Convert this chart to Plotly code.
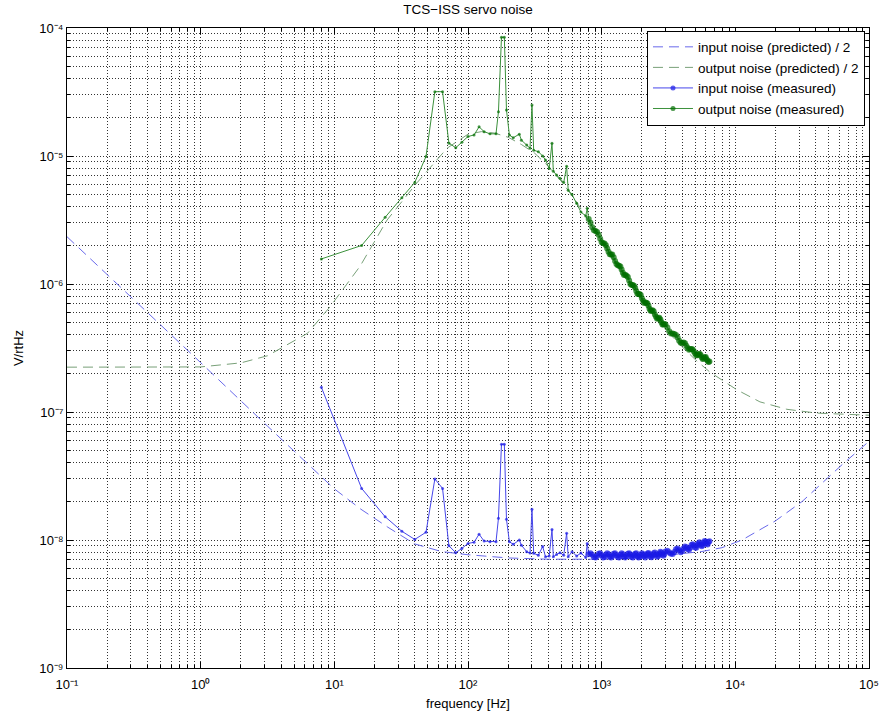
import plotly.graph_objects as go

# ---------------- data ----------------
# predicted input noise / 2
pred_in_f = [0.1, 0.316, 1, 3.16, 10, 15.8, 25.1, 39.8, 63.1, 100, 200, 398, 1000,
             1995, 3162, 5623, 7943, 11220, 15850, 19950, 31620, 63100, 100000]
pred_in_v = [2.34e-6, 7.59e-7, 2.43e-7, 7.76e-8, 2.51e-8, 1.74e-8, 1.26e-8, 9.33e-9,
             8.13e-9, 7.67e-9, 7.24e-9, 7.08e-9, 7.08e-9, 7.24e-9, 7.59e-9, 8.13e-9,
             8.71e-9, 1.0e-8, 1.23e-8, 1.41e-8, 2.0e-8, 3.89e-8, 5.9e-8]

# predicted output noise / 2
pred_out_f = [0.1, 1, 2, 3.16, 6.3, 9.3, 15.6, 24.8, 41.5, 58.6, 69.7, 100, 126, 158,
              200, 251, 316, 398, 501, 631, 794, 1000, 1259, 1585, 1995, 2512, 3162,
              3981, 5012, 6457, 10280, 15280, 24300, 40800, 75900, 100000]
pred_out_v = [2.24e-7, 2.25e-7, 2.42e-7, 2.75e-7, 4.12e-7, 6.65e-7, 1.38e-6, 3.16e-6,
              6.17e-6, 9.33e-6, 1.15e-5, 1.48e-5, 1.55e-5, 1.51e-5, 1.40e-5, 1.23e-5,
              1.05e-5, 8.32e-6, 6.31e-6, 4.57e-6, 3.16e-6, 2.14e-6, 1.48e-6, 1.05e-6,
              7.5e-7, 5.5e-7, 4.17e-7, 3.24e-7, 2.57e-7, 2.05e-7, 1.49e-7, 1.20e-7,
              1.05e-7, 9.8e-8, 9.5e-8, 9.44e-8]

# measured spectra (common frequency bins)
meas_f = [8, 16, 24, 32, 40, 48.5, 56.5, 64.5, 72, 81, 90, 100, 111, 121, 132, 146, 162,
          169, 178, 187, 194, 204, 218, 242, 251, 275, 291, 301, 310, 336, 362, 380, 405,
          425, 435, 460, 488, 520, 547, 562, 600, 650, 700, 760, 780,
          800, 825, 850, 875, 900, 925, 950, 975, 1000, 1025, 1050, 1075, 1100, 1125, 1150,
          1175, 1200, 1230, 1260, 1290, 1320, 1350, 1380, 1410, 1440, 1470, 1500, 1535,
          1570, 1605, 1640, 1675, 1710, 1745, 1780, 1815, 1850, 1885, 1920, 1960, 2000,
          2040, 2080, 2120, 2160, 2200, 2240, 2280, 2320, 2360, 2400, 2450, 2500, 2550,
          2600, 2650, 2700, 2750, 2800, 2850, 2900, 2950, 3000,
          3100, 3200, 3300, 3400, 3500, 3600, 3700, 3800, 3900, 4000, 4100, 4200, 4300,
          4400, 4500, 4600, 4700, 4800, 4900, 5000, 5100, 5200, 5300, 5400, 5500, 5600,
          5700, 5800, 5900, 6000, 6100, 6200, 6300, 6400]

meas_in_v = [1.56e-7, 2.53e-8, 1.52e-8, 1.17e-8, 1.01e-8, 1.15e-8, 3.0e-8, 2.53e-8, 9.0e-9,
             7.96e-9, 8.6e-9, 9.4e-9, 9.6e-9, 1.11e-8, 9.8e-9, 9.7e-9, 9.7e-9, 1.48e-8,
             5.6e-8, 5.6e-8, 1.45e-8, 9.7e-9, 9.25e-9, 1.0e-8, 9.1e-9, 8.1e-9, 7.9e-9,
             1.74e-8, 7.87e-9, 7.6e-9, 8.9e-9, 7.4e-9, 7.5e-9, 1.21e-8, 7.4e-9, 7.7e-9,
             7.96e-9, 7.6e-9, 1.13e-8, 7.4e-9, 8.1e-9, 7.5e-9, 7.9e-9, 7.3e-9, 9.4e-9,
             7.74e-9, 7.89e-9, 7.67e-9, 7.36e-9, 7.29e-9, 7.51e-9, 7.82e-9, 7.89e-9, 7.59e-9,
             7.29e-9, 7.36e-9, 7.67e-9, 7.89e-9, 7.74e-9, 7.44e-9, 7.29e-9, 7.51e-9, 7.82e-9,
             7.89e-9, 7.59e-9, 7.36e-9, 7.29e-9, 7.67e-9, 7.89e-9, 7.74e-9, 7.44e-9, 7.29e-9,
             7.51e-9, 7.82e-9, 7.89e-9, 7.67e-9, 7.36e-9, 7.29e-9, 7.59e-9, 7.82e-9, 7.89e-9,
             7.51e-9, 7.29e-9, 7.36e-9, 7.67e-9, 7.89e-9,
             7.75e-9, 7.45e-9, 7.31e-9, 7.61e-9, 7.84e-9, 7.92e-9, 7.70e-9, 7.40e-9, 7.33e-9,
             7.57e-9, 7.89e-9, 7.98e-9, 7.69e-9, 7.40e-9, 7.50e-9, 7.84e-9, 8.09e-9, 7.96e-9,
             7.66e-9, 7.52e-9, 7.77e-9, 8.12e-9,
             8.24e-9, 8.04e-9, 7.80e-9, 7.77e-9, 8.07e-9, 8.45e-9, 8.59e-9, 8.32e-9, 8.04e-9,
             8.18e-9, 8.57e-9, 8.89e-9, 8.78e-9, 8.50e-9, 8.38e-9, 8.70e-9, 9.12e-9, 9.25e-9,
             9.04e-9, 8.75e-9, 8.70e-9, 9.12e-9, 9.43e-9, 9.60e-9, 9.18e-9, 8.94e-9, 9.10e-9,
             9.51e-9, 9.84e-9, 9.70e-9, 9.36e-9, 9.21e-9, 9.64e-9, 9.76e-9]

meas_out_v = [1.57e-6, 2.0e-6, 3.32e-6, 4.72e-6, 6.22e-6, 9.9e-6, 3.18e-5, 3.18e-5, 1.26e-5,
              1.16e-5, 1.28e-5, 1.42e-5, 1.46e-5, 1.69e-5, 1.55e-5, 1.49e-5, 1.49e-5,
              2.22e-5, 8.46e-5, 8.46e-5, 2.29e-5, 1.46e-5, 1.39e-5, 1.48e-5, 1.33e-5,
              1.22e-5, 1.15e-5, 2.5e-5, 1.11e-5, 1.08e-5, 1.0e-5, 9.3e-6, 8.0e-6, 1.26e-5,
              7.6e-6, 7.1e-6, 6.7e-6, 6.2e-6, 8.3e-6, 5.4e-6, 5.0e-6, 4.27e-6, 3.65e-6,
              3.4e-6, 3.9e-6,
              3.22e-6, 3.01e-6, 2.78e-6, 2.63e-6, 2.59e-6, 2.55e-6, 2.43e-6, 2.26e-6, 2.12e-6,
              2.08e-6, 2.07e-6, 2.01e-6, 1.89e-6, 1.79e-6, 1.71e-6, 1.70e-6, 1.70e-6, 1.62e-6,
              1.51e-6, 1.43e-6, 1.40e-6, 1.39e-6, 1.37e-6, 1.30e-6, 1.225e-6, 1.177e-6,
              1.18e-6, 1.16e-6, 1.133e-6, 1.064e-6, 9.99e-7, 9.80e-7, 9.81e-7, 9.71e-7,
              9.34e-7, 8.81e-7, 8.41e-7, 8.35e-7, 8.36e-7, 8.20e-7, 7.74e-7,
              7.39e-7, 7.12e-7, 7.17e-7, 7.14e-7, 7.05e-7, 6.75e-7, 6.40e-7, 6.19e-7, 6.18e-7,
              6.23e-7, 6.12e-7, 5.79e-7, 5.55e-7, 5.36e-7, 5.41e-7, 5.46e-7, 5.29e-7, 5.03e-7,
              4.83e-7, 4.83e-7, 4.88e-7, 4.83e-7,
              4.57e-7, 4.27e-7, 4.10e-7, 4.10e-7, 4.07e-7, 4.00e-7, 3.82e-7, 3.60e-7, 3.47e-7,
              3.46e-7, 3.49e-7, 3.45e-7, 3.29e-7, 3.16e-7, 3.07e-7, 3.10e-7, 3.11e-7, 3.08e-7,
              2.97e-7, 2.86e-7, 2.77e-7, 2.77e-7, 2.82e-7, 2.85e-7, 2.79e-7, 2.68e-7, 2.60e-7,
              2.62e-7, 2.68e-7, 2.69e-7, 2.58e-7, 2.51e-7, 2.46e-7, 2.48e-7]

x_tick_vals = [1e-1, 1e0, 1e1, 1e2, 1e3, 1e4, 1e5]
x_tick_text = ["10⁻¹", "10⁰", "10¹", "10²", "10³", "10⁴", "10⁵"]
y_tick_vals = [1e-9, 1e-8, 1e-7, 1e-6, 1e-5, 1e-4]
y_tick_text = ["10⁻⁹", "10⁻⁸", "10⁻⁷", "10⁻⁶", "10⁻⁵", "10⁻⁴"]

# ---------------- figure ----------------
FONT = "Liberation Sans, Arial, Helvetica, sans-serif"

# dense part of the spectra drawn with bigger dots (overlapping markers form a band)
meas_marker_size = [3 if f < 790 else 6 for f in meas_f]

fig = go.Figure()
fig.add_trace(go.Scatter(x=pred_in_f, y=pred_in_v, mode="lines",
                         name="input noise (predicted) / 2",
                         line=dict(color="rgb(105,105,235)", width=1, dash="10px,6px")))
fig.add_trace(go.Scatter(x=pred_out_f, y=pred_out_v, mode="lines",
                         name="output noise (predicted) / 2",
                         line=dict(color="rgb(120,160,120)", width=1, dash="10px,6px")))
fig.add_trace(go.Scatter(x=meas_f, y=meas_in_v, mode="lines+markers",
                         name="input noise (measured)",
                         line=dict(color="rgb(70,70,235)", width=1),
                         marker=dict(color="rgb(25,25,230)", size=meas_marker_size,
                                     symbol="circle", line=dict(width=0))))
fig.add_trace(go.Scatter(x=meas_f, y=meas_out_v, mode="lines+markers",
                         name="output noise (measured)",
                         line=dict(color="rgb(60,145,60)", width=1),
                         marker=dict(color="rgb(0,110,0)", size=meas_marker_size,
                                     symbol="circle", line=dict(width=0))))

def minor_vals(lo, hi):
    out = []
    for e in range(lo, hi):
        for m in range(2, 10):
            out.append(m * 10.0 ** e)
    return out

grid_col = "rgba(0,0,0,0.8)"
axis_common = dict(
    type="log", showline=True, linecolor="black", linewidth=1, mirror="allticks",
    ticks="inside", ticklen=6, tickcolor="black", tickwidth=1,
    showgrid=True, gridcolor=grid_col, gridwidth=1, griddash="1px,2px",
    zeroline=False, automargin=False,
    tickfont=dict(family=FONT, size=13, color="black"),
)

fig.update_xaxes(**axis_common, range=[-1, 5], tickmode="array",
                 tickvals=x_tick_vals, ticktext=x_tick_text, ticklabelstandoff=4,
                 minor=dict(tickmode="array", tickvals=minor_vals(-1, 5), ticks="inside",
                            ticklen=3, tickcolor="black", showgrid=True,
                            gridcolor=grid_col, gridwidth=1, griddash="1px,2px"),
                 title=dict(text="frequency [Hz]", font=dict(family=FONT, size=13, color="black"),
                            standoff=8))
fig.update_yaxes(**axis_common, range=[-9, -4], tickmode="array",
                 tickvals=y_tick_vals, ticktext=y_tick_text,
                 minor=dict(tickmode="array", tickvals=minor_vals(-9, -4), ticks="inside",
                            ticklen=3, tickcolor="black", showgrid=True,
                            gridcolor=grid_col, gridwidth=1, griddash="1px,2px"),
                 title=dict(text="V/rtHz", font=dict(family=FONT, size=13, color="black"),
                            standoff=12))

fig.update_layout(
    width=891, height=711,
    margin=dict(l=67, r=22, t=28, b=43),
    paper_bgcolor="white", plot_bgcolor="white",
    font=dict(family=FONT, size=13, color="black"),
    title=dict(text="TCS−ISS servo noise", x=0.5, xref="paper", xanchor="center",
               y=1 - 9 / 711, yref="container", yanchor="middle",
               font=dict(family=FONT, size=13.5, color="black")),
    legend=dict(x=0.995, y=0.996, xanchor="right", yanchor="top",
                bgcolor="white", bordercolor="black", borderwidth=1,
                font=dict(family=FONT, size=13.5, color="black"),
                tracegroupgap=0, itemwidth=40),
    showlegend=True,
)

fig.write_html("out.html",
               config={"displayModeBar": False},
               post_script="document.body.style.margin='0';document.body.style.overflow='hidden';")
